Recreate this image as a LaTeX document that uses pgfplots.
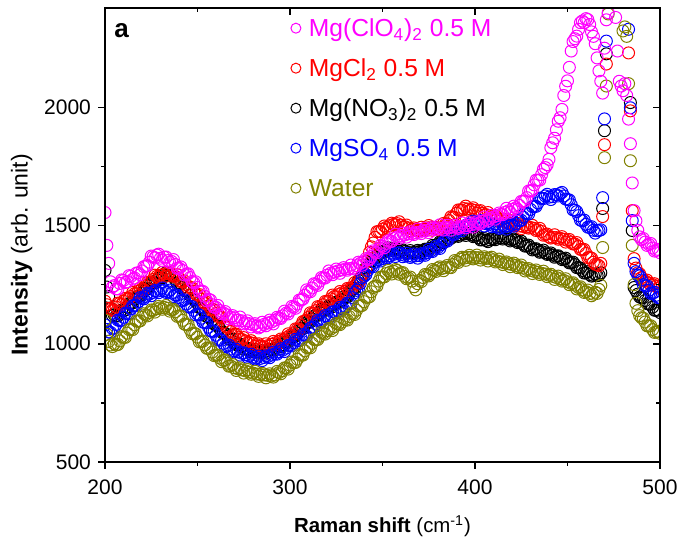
\documentclass[border=0pt]{standalone}
\usepackage{fontspec}
\setmainfont{Liberation Sans}
\usepackage{pgfplots}
\usepackage{pgfplotstable}
\pgfplotsset{compat=1.18}
\definecolor{olivew}{RGB}{128,128,0}
\definecolor{magentaw}{RGB}{255,0,255}
\definecolor{redw}{RGB}{255,0,0}
\definecolor{bluew}{RGB}{0,0,255}

% Raman spectra, columns: shift, Mg(ClO4)2, MgCl2, Mg(NO3)2, MgSO4, water
\pgfplotstableread{
x m r k b w
200 1555 1180 1310 1080 1100
201 1416 1165 1240 1060 1040
202 1340 1150 1200 1050 1010
203 1262 1145 1150 1048 995
204 1240 1141 1120 1065 988
206 1232 1155 1118 1082 995
208 1255 1171 1130 1098 1012
210 1268 1180 1140 1112 1027
212 1262 1190 1155 1128 1045
214 1285 1200 1172 1148 1062
216 1278 1212 1188 1162 1080
218 1300 1222 1200 1178 1095
220 1308 1232 1215 1192 1112
222 1328 1245 1230 1200 1122
224 1345 1260 1245 1210 1132
226 1368 1272 1258 1217 1141
228 1375 1285 1270 1222 1148
230 1362 1290 1280 1226 1152
232 1366 1295 1290 1225 1154
234 1352 1297 1295 1220 1150
236 1348 1292 1290 1215 1144
238 1335 1285 1272 1206 1135
240 1320 1276 1255 1195 1118
242 1310 1262 1240 1183 1099
244 1295 1250 1222 1168 1080
246 1280 1238 1205 1155 1060
248 1258 1222 1188 1141 1044
250 1238 1205 1170 1125 1028
252 1222 1188 1150 1108 1010
254 1200 1172 1130 1090 995
256 1188 1160 1112 1070 980
258 1165 1145 1096 1052 965
260 1154 1128 1080 1036 952
262 1141 1112 1064 1018 940
264 1130 1090 1048 1002 930
266 1122 1070 1032 990 918
268 1112 1052 1018 978 906
270 1110 1040 1005 970 898
272 1100 1028 996 965 894
274 1097 1018 988 960 889
276 1088 1012 980 954 885
278 1085 1006 974 948 880
280 1080 1002 970 943 876
282 1074 996 966 940 872
284 1072 990 964 938 870
286 1082 986 966 942 868
288 1088 992 970 946 866
290 1092 998 975 952 864
292 1100 1004 982 958 868
294 1108 1010 988 966 878
296 1118 1016 996 973 886
298 1130 1026 1008 982 898
300 1140 1036 1020 994 910
302 1155 1046 1032 1004 920
304 1168 1062 1045 1014 935
306 1185 1078 1062 1024 952
308 1205 1095 1078 1036 970
310 1222 1112 1092 1052 986
312 1236 1128 1105 1070 1002
314 1252 1140 1120 1084 1018
316 1265 1155 1132 1096 1032
318 1278 1165 1142 1105 1044
320 1290 1178 1150 1115 1055
322 1298 1190 1160 1125 1062
324 1303 1200 1168 1135 1072
326 1308 1208 1176 1140 1083
328 1312 1215 1185 1148 1092
330 1316 1222 1195 1156 1102
332 1318 1232 1210 1170 1115
334 1320 1240 1230 1195 1128
336 1330 1255 1252 1226 1142
338 1340 1268 1275 1255 1160
340 1348 1300 1300 1285 1178
342 1356 1350 1325 1310 1196
344 1370 1410 1348 1328 1220
346 1388 1450 1365 1345 1244
348 1400 1475 1380 1355 1265
350 1412 1485 1390 1360 1282
352 1424 1492 1396 1365 1297
354 1432 1500 1400 1372 1302
356 1445 1505 1400 1378 1306
358 1452 1508 1398 1382 1310
360 1455 1502 1395 1378 1300
362 1460 1495 1390 1374 1285
364 1465 1490 1386 1372 1278
366 1466 1485 1385 1370 1265
368 1470 1480 1388 1372 1228
370 1472 1479 1390 1373 1268
372 1478 1485 1394 1378 1280
374 1479 1490 1398 1385 1290
376 1484 1492 1404 1392 1297
378 1488 1488 1412 1400 1310
380 1490 1482 1420 1407 1320
382 1488 1490 1430 1420 1318
384 1492 1505 1440 1434 1322
386 1490 1521 1449 1449 1323
388 1494 1535 1454 1462 1335
390 1492 1552 1458 1475 1348
392 1495 1565 1460 1485 1358
394 1498 1572 1464 1492 1362
396 1500 1570 1466 1500 1365
398 1504 1568 1462 1506 1366
400 1506 1564 1455 1512 1365
402 1510 1560 1448 1513 1364
404 1518 1552 1440 1510 1362
406 1525 1546 1437 1508 1361
408 1530 1542 1440 1506 1361
410 1536 1535 1444 1500 1355
412 1542 1530 1448 1496 1350
414 1548 1524 1449 1492 1346
416 1555 1518 1447 1494 1342
418 1562 1512 1443 1498 1338
420 1568 1508 1440 1502 1335
422 1575 1502 1437 1508 1331
424 1585 1498 1430 1520 1326
426 1602 1496 1422 1536 1320
428 1618 1494 1414 1551 1314
430 1645 1492 1407 1568 1310
432 1672 1488 1400 1582 1306
434 1692 1482 1395 1596 1302
436 1715 1475 1390 1615 1298
438 1745 1462 1385 1625 1295
440 1780 1452 1380 1620 1290
442 1850 1450 1375 1622 1285
444 1905 1449 1370 1630 1280
446 1956 1446 1365 1635 1275
448 2050 1442 1358 1625 1268
450 2112 1437 1350 1610 1262
452 2238 1430 1343 1588 1255
454 2290 1422 1335 1565 1248
456 2330 1412 1322 1542 1238
458 2365 1398 1310 1520 1228
460 2375 1382 1300 1505 1220
462 2350 1365 1293 1492 1213
464 2300 1345 1289 1480 1210
466 2209 1335 1288 1478 1213
467 2154 1330 1290 1479 1230
468 2110 1340 1300 1482 1247
469 2060 1538 1572 1618 1407
470 2250 1842 1901 1951 1787
471 2370 2183 2226 2280 2090
472 2400 nan nan nan 2395
476 2380 nan nan nan nan
477 2238 nan nan nan nan
478 2110 nan nan nan nan
479 2090 nan nan nan nan
480 2070 nan nan nan 2323
481 2100 nan nan nan 2340
482 2050 nan nan nan 2300
483 1950 2230 nan 2330 2100
484 1846 1985 2020 1998 1774
485 1680 1563 1479 1521 1416
486 1563 1360 1238 1340 1250
487 1520 1320 1225 1305 1171
488 1480 1300 1210 1290 1140
490 1440 1280 1195 1270 1110
492 1430 1265 1183 1245 1092
494 1420 1257 1168 1226 1075
496 1405 1250 1155 1214 1060
498 1395 1244 1141 1205 1050
500 1385 1238 1132 1196 1044
205 1246 1142 1123 1066 1000
207 1232 1172 1118 1100 997
209 1270 1166 1143 1099 1030
211 1259 1192 1143 1129 1027
213 1288 1191 1170 1127 1060
215 1273 1217 1173 1160 1060
217 1299 1211 1198 1162 1096
219 1292 1236 1202 1195 1097
221 1326 1229 1231 1190 1127
223 1331 1260 1233 1214 1118
225 1371 1262 1258 1203 1143
227 1363 1290 1257 1225 1134
229 1379 1282 1279 1216 1158
231 1352 1302 1279 1236 1146
233 1367 1286 1301 1217 1162
235 1344 1302 1288 1227 1138
237 1356 1285 1287 1200 1146
239 1319 1292 1257 1206 1116
241 1325 1263 1252 1181 1117
243 1291 1265 1225 1186 1083
245 1296 1234 1222 1156 1080
247 1263 1237 1192 1157 1043
249 1262 1210 1185 1122 1042
251 1221 1208 1153 1122 1008
253 1221 1174 1144 1091 1011
255 1182 1175 1115 1090 981
257 1185 1143 1112 1055 983
259 1154 1144 1083 1053 950
261 1162 1116 1078 1016 952
263 1127 1112 1049 1015 924
265 1136 1074 1044 988 932
267 1105 1070 1019 994 905
269 1119 1036 1020 968 912
271 1099 1041 996 977 887
273 1113 1019 998 952 898
275 1084 1026 977 962 876
277 1097 1003 981 943 891
279 1071 1013 966 956 871
281 1085 989 976 936 884
283 1067 1000 960 948 862
285 1091 984 971 929 875
287 1076 1000 961 949 856
289 1100 989 977 941 873
291 1084 1010 973 965 859
293 1112 997 993 956 883
295 1107 1020 987 979 873
297 1138 1017 1008 967 898
299 1126 1042 1007 993 893
301 1158 1035 1030 991 923
303 1150 1063 1033 1019 921
305 1185 1060 1062 1013 954
307 1189 1094 1065 1039 952
309 1228 1100 1091 1033 984
311 1220 1131 1092 1066 983
313 1254 1128 1117 1069 1018
315 1247 1157 1120 1100 1018
317 1280 1150 1145 1095 1048
319 1278 1179 1141 1119 1041
321 1308 1180 1161 1109 1065
323 1292 1206 1157 1135 1056
325 1316 1198 1176 1130 1086
327 1298 1221 1175 1154 1081
329 1322 1209 1198 1146 1107
331 1311 1234 1198 1172 1100
333 1333 1232 1226 1172 1128
335 1316 1259 1234 1216 1124
337 1345 1256 1268 1233 1159
339 1332 1293 1282 1280 1162
341 1360 1315 1321 1292 1197
343 1357 1387 1332 1328 1199
345 1393 1426 1363 1326 1238
347 1385 1474 1366 1355 1244
349 1416 1474 1389 1350 1282
351 1406 1498 1387 1373 1283
353 1436 1486 1406 1363 1310
355 1433 1510 1395 1384 1295
357 1463 1503 1405 1369 1314
359 1445 1516 1390 1385 1294
361 1468 1493 1397 1368 1301
363 1451 1502 1382 1383 1275
365 1474 1478 1394 1365 1282
367 1462 1490 1382 1380 1241
369 1485 1476 1395 1362 1254
371 1466 1493 1385 1381 1263
373 1489 1482 1400 1374 1293
375 1470 1500 1395 1399 1287
377 1494 1480 1416 1390 1314
379 1483 1492 1411 1413 1306
381 1503 1482 1431 1403 1325
383 1481 1509 1428 1432 1309
385 1501 1507 1449 1434 1331
387 1480 1537 1446 1466 1322
389 1501 1534 1464 1463 1352
391 1488 1566 1454 1489 1344
393 1511 1565 1468 1478 1366
395 1490 1582 1458 1501 1353
397 1512 1563 1468 1495 1374
399 1493 1575 1453 1519 1359
401 1516 1552 1460 1507 1375
403 1508 1563 1439 1521 1354
405 1536 1545 1445 1498 1368
407 1519 1555 1432 1512 1350
409 1543 1533 1446 1495 1366
411 1527 1542 1440 1508 1346
413 1553 1517 1457 1488 1358
415 1546 1528 1443 1502 1335
417 1573 1511 1451 1485 1346
419 1556 1521 1435 1505 1326
421 1582 1499 1443 1497 1341
423 1568 1509 1428 1524 1322
425 1602 1487 1434 1522 1333
427 1604 1502 1413 1553 1308
429 1646 1489 1417 1549 1318
431 1650 1501 1397 1580 1297
433 1692 1479 1402 1581 1312
435 1692 1488 1387 1616 1293
437 1738 1459 1396 1614 1307
439 1757 1464 1378 1632 1284
441 1829 1447 1384 1610 1294
443 1869 1461 1366 1631 1272
445 1941 1442 1372 1625 1286
447 1991 1453 1356 1640 1265
449 2089 1430 1362 1612 1275
451 2169 1441 1342 1608 1250
453 2278 1422 1345 1566 1258
455 2301 1428 1322 1559 1232
457 2358 1399 1320 1523 1241
459 2358 1399 1299 1523 1217
461 2371 1364 1305 1493 1227
463 2319 1362 1286 1495 1203
465 2269 1336 1295 1468 1218
489 1452 1296 1198 1287 1119
491 1445 1266 1195 1250 1108
493 1416 1269 1170 1245 1076
495 1424 1248 1167 1213 1076
497 1392 1254 1142 1218 1048
499 1399 1236 1143 1195 1053
}\spectra

\begin{document}
\begin{tikzpicture}
\pgfplotsset{
  frame/.style={
    scale only axis, width=277.5pt, height=227pt,
    xmin=200, xmax=500, ymin=500, ymax=2420,
    xtick={200,300,400,500}, ytick={500,1000,1500,2000},
    minor x tick num=1, minor y tick num=1,
    major tick length=3.5pt, minor tick length=2pt,
    axis line style={line width=0.8pt},
    tick style={line width=0.75pt, black},
  }
}
\begin{axis}[
  frame,
  xtick pos=bottom, ytick pos=left, tick align=outside,
  tick label style={font=\fontsize{10.5}{12}\selectfont},
  xticklabel style={yshift=-2pt},
  /pgf/number format/assume math mode=true,
  /pgf/number format/1000 sep={},
  xlabel={\textbf{Raman shift} (cm\textsuperscript{-1})},
  ylabel={\textbf{Intensity} (arb. unit)},
  xlabel style={font=\fontsize{10.2}{12}\selectfont, yshift=-3.5pt},
  ylabel style={font=\fontsize{11.5}{13}\selectfont, at={(ticklabel cs:0.456)}, yshift=-1pt},
  clip marker paths=true,
  every axis plot/.append style={only marks, mark=o, mark size=3pt, mark options={line width=0.5pt}},
  legend cell align=left,
  legend image code/.code={\draw[#1] plot coordinates {(0pt,0pt)};},
  legend style={draw=none, fill=none, inner sep=0pt, outer sep=0pt,
    at={(rel axis cs:0.335,0.989)}, anchor=north west,
    font=\fontsize{12.3}{14}\selectfont, column sep=3pt, row sep=4.8pt,
    nodes={inner sep=1pt, text height=11pt, text depth=2.2pt}},
]
\addplot[black, forget plot] table[x=x, y=k] {\spectra};
\addplot[redw, forget plot] table[x=x, y=r] {\spectra};
\addplot[bluew, forget plot] table[x=x, y=b] {\spectra};
\addplot[olivew, forget plot] table[x=x, y=w] {\spectra};
\addplot[magentaw, forget plot] table[x=x, y=m] {\spectra};

\addlegendimage{only marks, mark=o, mark size=2.5pt, magentaw}
\addlegendentry{\textcolor{magentaw}{Mg(ClO\textsubscript{4})\textsubscript{2} 0.5 M}}
\addlegendimage{only marks, mark=o, mark size=2.5pt, redw}
\addlegendentry{\textcolor{redw}{MgCl\textsubscript{2} 0.5 M}}
\addlegendimage{only marks, mark=o, mark size=2.5pt, black}
\addlegendentry{\textcolor{black}{Mg(NO\textsubscript{3})\textsubscript{2} 0.5 M}}
\addlegendimage{only marks, mark=o, mark size=2.5pt, bluew}
\addlegendentry{\textcolor{bluew}{MgSO\textsubscript{4} 0.5 M}}
\addlegendimage{only marks, mark=o, mark size=2.5pt, olivew}
\addlegendentry{\textcolor{olivew}{Water}}

\node[anchor=base west, inner sep=0pt, font=\bfseries\fontsize{13}{15}\selectfont]
  at (rel axis cs:0.016,0.936) {a};
\end{axis}
\begin{axis}[
  frame,
  xtick pos=top, ytick pos=right, tick align=inside,
  xticklabels={}, yticklabels={},
]
\end{axis}
\pgfresetboundingbox
\useasboundingbox (-52.5pt,-38.5pt) rectangle (288pt,231pt);
\end{tikzpicture}
\end{document}
